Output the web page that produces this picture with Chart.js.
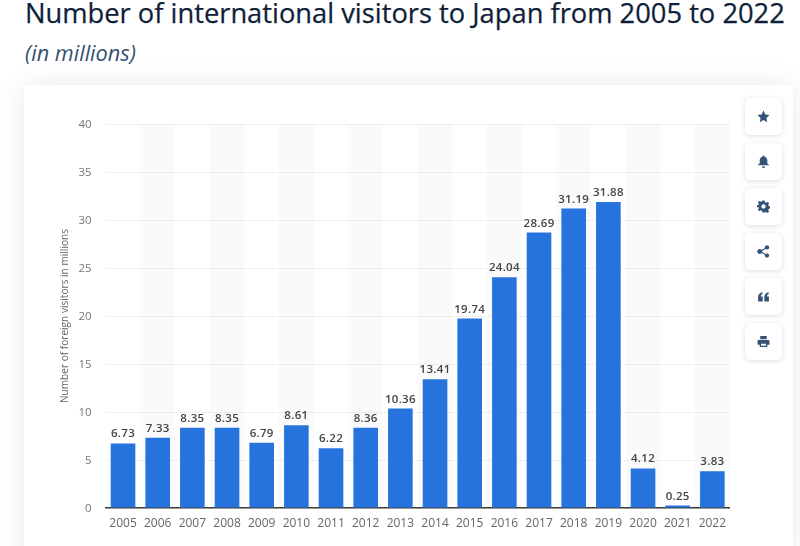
<!DOCTYPE html>
<html>
<head>
<meta charset="utf-8">
<script src="https://cdn.jsdelivr.net/npm/chart.js@4"></script>
<style>
html,body{margin:0;padding:0;width:800px;height:546px;overflow:hidden;background:#fff;font-family:"Open Sans",sans-serif}
#title{position:absolute;left:25px;top:-6px;font-size:27.3px;line-height:38px;font-weight:400;color:#0f1f3a;white-space:nowrap;-webkit-text-stroke:.25px #0f1f3a}
#sub{position:absolute;left:25px;top:39px;font-size:21.700px;line-height:28px;font-style:italic;color:#35506f;white-space:nowrap}
#card{position:absolute;left:24px;top:85px;width:769px;height:480px;background:#fff;border-radius:5px;box-shadow:0 0 26px rgba(60,90,130,.13)}
.btn{position:absolute;left:744.500px;width:37px;height:37px;background:#fff;border-radius:5px;box-shadow:0 1px 5px rgba(60,90,130,.20);display:flex;align-items:center;justify-content:center}
.btn svg{width:13px;height:13px;fill:#345377}
canvas{position:absolute;left:0;top:0}
</style>
</head>
<body>
<div id="title">Number of international visitors to Japan from 2005 to 2022</div>
<div id="sub">(in millions)</div>
<div id="card"></div>
<div style="position:absolute;left:0;top:0;width:800px;height:546px"><canvas id="c" width="800" height="546"></canvas></div>
<div class="btn" style="top:98px"><svg viewBox="0 0 24 24"><path d="M12 1l3.400 7.200 7.600 1-5.600 5.400 1.400 7.800L12 18.600 5.200 22.400l1.400-7.800L1 9.200l7.600-1z"/></svg></div>
<div class="btn" style="top:143px"><svg viewBox="0 0 24 24"><path d="M12 1a2 2 0 0 1 2 2c3.500 1 5 3.800 5 7v5l3 3v1H2v-1l3-3v-5c0-3.200 1.500-6 5-7a2 2 0 0 1 2-2zM9 21h6a3 3 0 0 1-6 0z"/></svg></div>
<div class="btn" style="top:188px"><svg viewBox="0 0 24 24"><path fill-rule="evenodd" d="M10 1h4l.7 3.200 2 .9 2.800-1.700 2.800 2.800-1.700 2.800.9 2 3.200.7v4l-3.200.7-.9 2 1.700 2.800-2.800 2.800-2.800-1.700-2 .9L14 23h-4l-.7-3.200-2-.9-2.800 1.700-2.800-2.800 1.700-2.800-.9-2L-.7 14v-4l3.200-.7.900-2-1.700-2.800 2.800-2.800 2.800 1.700 2-.9zM12 8a4 4 0 1 0 0 8 4 4 0 0 0 0-8z"/></svg></div>
<div class="btn" style="top:233px"><svg viewBox="0 0 24 24"><circle cx="18.500" cy="4.500" r="4"/><circle cx="5" cy="12" r="4.500"/><circle cx="18.500" cy="19.500" r="4"/><path d="M6 10.500l12-7 1 2-12 7zM7 11.500l12 7-1 2-12-7z"/></svg></div>
<div class="btn" style="top:278px"><svg viewBox="0 0 24 24"><path d="M2 21V13C2 8 5 5 10 4v4c-2 .5-3 1.500-3 4h3.500v9zM13.500 21V13c0-5 3-8 8-9v4c-2 .5-3 1.500-3 4H22v9z"/></svg></div>
<div class="btn" style="top:323px"><svg viewBox="0 0 24 24"><path fill-rule="evenodd" d="M6 2h12v6H6zM3 9h18a2 2 0 0 1 2 2v7h-4v4H5v-4H1v-7a2 2 0 0 1 2-2zM7.500 16v4h9v-4z"/></svg></div>
<script>
const years = ['2005','2006','2007','2008','2009','2010','2011','2012','2013','2014','2015','2016','2017','2018','2019','2020','2021','2022'];
const visitors = [6.73,7.33,8.35,8.35,6.79,8.61,6.22,8.36,10.36,13.41,19.74,24.04,28.69,31.19,31.88,4.12,0.25,3.83];
const yTicks = [0,5,10,15,20,25,30,35,40];
const axisTitle = 'Number of foreign visitors in millions';

const stripes = {
  id:'stripes',
  beforeDatasetsDraw(chart){
    const {ctx, chartArea:a, scales:{x}} = chart;
    const w = a.width/years.length;
    ctx.save();
    ctx.fillStyle='rgba(120,120,130,.035)';
    years.forEach((y,i)=>{ if(i%2===1){ ctx.fillRect(x.getPixelForValue(i)-w/2,a.top,w,a.height);} });
    ctx.restore();
  }
};
const valueLabels = {
  id:'valueLabels',
  afterDatasetsDraw(chart){
    const {ctx} = chart;
    ctx.save();
    ctx.font='600 11.500px "Open Sans"';
    ctx.letterSpacing='0.3px';
    ctx.fillStyle='#444';
    ctx.textAlign='center';
    ctx.textBaseline='bottom';
    chart.getDatasetMeta(0).data.forEach((b,i)=>{ ctx.fillText(visitors[i].toFixed(2),b.x,b.y-3.5); });
    ctx.restore();
  }
};
new Chart(document.getElementById('c'),{
  type:'bar',
  data:{labels:years,datasets:[{data:visitors,backgroundColor:'#2673dd',borderWidth:0,categoryPercentage:1,barPercentage:0.71}]},
  plugins:[stripes,valueLabels],
  options:{
    responsive:false,animation:false,devicePixelRatio:1,
    layout:{padding:{top:124,right:70.300,left:59.500,bottom:0}},
    plugins:{legend:{display:false},tooltip:{enabled:false}},
    scales:{
      x:{
        grid:{display:false,drawTicks:false},
        border:{display:true,color:'#3d3d3d',width:1.5},
        ticks:{color:'#666',font:{family:'"Open Sans"',size:12},padding:8,maxRotation:0,autoSkip:false},
        afterFit(s){s.height=38;}
      },
      y:{
        min:0,max:40,
        afterBuildTicks(s){s.ticks=yTicks.map(v=>({value:v}));},
        grid:{color:'#e2e2e2',lineWidth:1,drawTicks:false},
        border:{display:false,dash:[1,1]},
        ticks:{color:'#777',font:{family:'"Open Sans"',size:11.500},padding:14,labelOffset:1},
        title:{display:true,text:axisTitle,color:'#666',font:{family:'"Open Sans"',size:10.100},padding:0},
        afterFit(s){s.width=46.200;}
      }
    }
  }
});
</script>
</body>
</html>
